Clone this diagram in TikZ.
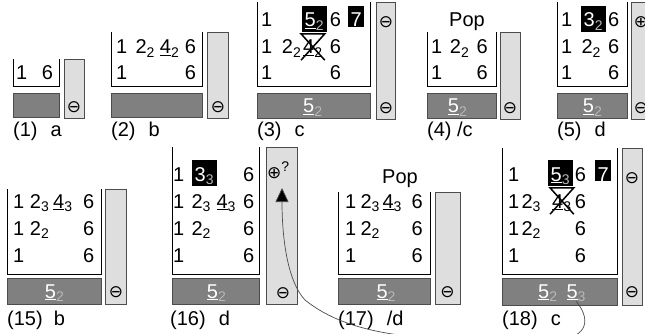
\documentclass[tikz,border=0pt]{standalone}
\usepackage{fontspec}
\setmainfont{Liberation Sans}
\newfontfamily\symfont{DejaVu Sans}
\usetikzlibrary{arrows.meta}
\definecolor{barg}{rgb}{0.5,0.5,0.5}
\definecolor{colg}{rgb}{0.87,0.87,0.87}
\definecolor{edgeg}{rgb}{0.3,0.3,0.3}
\definecolor{subg}{rgb}{0.72,0.72,0.72}
\newcommand{\idx}[1]{\textsubscript{#1}}
\newcommand{\widx}[1]{\textsubscript{\color{subg}#1}}
\newcommand{\cminus}{{\symfont\fontsize{17}{17}\selectfont ⊖}}
\newcommand{\cplus}{{\symfont\fontsize{17}{17}\selectfont ⊕}}

\begin{document}
\begin{tikzpicture}[x=1pt, y=-1pt, font=\fontsize{20}{23}\selectfont]
  \tikzstyle{tok}=[anchor=base west, inner sep=0pt]
  \tikzstyle{hl}=[tok, fill=black, text=white, inner xsep=2.5pt, text height=21pt, text depth=0pt]
  \tikzstyle{xtok}=[tok, inner xsep=2pt, text height=20pt, text depth=6pt]
  \tikzstyle{bartxt}=[tok, text=white]
  \tikzstyle{sym}=[inner sep=0pt, anchor=center]
  \tikzstyle{lbl}=[anchor=base west, inner sep=0pt]
  \tikzstyle{stack}=[draw=black, line width=1pt]
  \tikzstyle{bar}=[fill=barg, draw=edgeg, line width=1pt]
  \tikzstyle{col}=[fill=colg, draw=edgeg, line width=0.8pt]
  \tikzstyle{xline}=[draw=black, line width=1.5pt]

  \useasboundingbox (0,0) rectangle (645,334);

  % top row: stacks, bars, columns
  \draw[stack] (13,59) |- (59,87) -- (59,59);
  \draw[bar] (13,94) rectangle (59,118);
  \draw[col] (64,59) rectangle (84,118);

  \draw[stack] (111,32) |- (202,87) -- (202,32);
  \draw[bar] (111,94) rectangle (202,118);
  \draw[col] (207,32) rectangle (228,118);

  \draw[stack] (257,2) |- (370,87) -- (370,2);
  \draw[bar] (257,94) rectangle (370,119);
  \draw[col] (376,2) rectangle (395,119);

  \draw[stack] (427,32) |- (496,87) -- (496,32);
  \draw[bar] (427,94) rectangle (496,119);
  \draw[col] (500,32) rectangle (520,119);

  \draw[stack] (557,2) |- (627,87) -- (627,2);
  \draw[bar] (557,94) rectangle (627,119);
  \draw[col] (631,2) rectangle (652,119);

  % bottom row
  \draw[stack] (7,189) |- (101,274) -- (101,189);
  \draw[bar] (7,278) rectangle (101,304);
  \draw[col] (105,189) rectangle (126,304);

  \draw[stack] (172,147) |- (259,274) -- (259,147);
  \draw[bar] (172,278) rectangle (259,304);
  \draw[col] (266,147) rectangle (297,304);

  \draw[stack] (338,192) |- (430,274) -- (430,192);
  \draw[bar] (338,278) rectangle (430,304);
  \draw[col] (435,192) rectangle (460,304);

  \draw[stack] (502,148) |- (617,274) -- (617,148);
  \draw[bar] (502,278) rectangle (617,305);
  \draw[col] (622,148) rectangle (642,305);

  % (1)
  \node[tok] (P1a) at (16,80) {1};
  \node[tok] (P1b) at (41.7,80) {6};
  \node[sym] (P1n) at (74,107) {\cminus};
  \node[lbl] (L1) at (13,137) {(1)\hspace{13pt}a};

  % (2)
  \node[tok] (P2a) at (116,54) {1};
  \node[tok] (P2b) at (135.4,54) {2\idx{2}};
  \node[tok] (P2c) at (159.7,54) {\underline{4}\idx{2}};
  \node[tok] (P2d) at (184.7,54) {6};
  \node[tok] (P2e) at (116,80) {1};
  \node[tok] (P2f) at (184.7,80) {6};
  \node[sym] (P2n) at (218,107) {\cminus};
  \node[lbl] (L2) at (111,137) {(2)\hspace{13pt}b};

  % (3)
  \node[tok] (P3a) at (261,27) {1};
  \node[hl, text depth=5pt] (P3b) at (302,27) {\underline{5}\widx{2}};
  \node[tok] (P3c) at (329.7,27) {6};
  \node[hl] (P3d) at (348,27) {7};
  \node[tok] (P3e) at (261,54) {1};
  \node[tok] (P3f) at (281.7,54) {2\idx{2}};
  \node[xtok] (P3g) at (301,54) {\underline{4}\idx{2}};
  \node[tok] (P3h) at (329.7,54) {6};
  \node[tok] (P3i) at (261,80) {1};
  \node[tok] (P3j) at (329.7,80) {6};
  \draw[xline] (P3g.south west) -- (P3g.north east) -- (P3g.north west) -- (P3g.south east);
  \node[bartxt] (P3k) at (303,113) {\underline{5}\widx{2}};
  \node[sym] (P3m) at (386,22) {\cminus};
  \node[sym] (P3n) at (386,108) {\cminus};
  \node[lbl] (L3) at (257,137) {(3)\hspace{13pt}c};

  % (4)
  \node[anchor=base, inner sep=0pt] (P4p) at (467,27) {Pop};
  \node[tok] (P4a) at (431,54) {1};
  \node[tok] (P4b) at (449.7,54) {2\idx{2}};
  \node[tok] (P4c) at (476.4,54) {6};
  \node[tok] (P4d) at (431,80) {1};
  \node[tok] (P4e) at (476.4,80) {6};
  \node[bartxt] (P4k) at (447.7,113) {\underline{5}\widx{2}};
  \node[sym] (P4n) at (510,108) {\cminus};
  \node[lbl] (L4) at (427,137) {(4) /c};

  % (5)
  \node[tok] (P5a) at (561,27) {1};
  \node[hl, text depth=5pt] (P5b) at (581,27) {3\widx{2}};
  \node[tok] (P5c) at (608,27) {6};
  \node[tok] (P5d) at (561,54) {1};
  \node[tok] (P5e) at (581.4,54) {2\idx{2}};
  \node[tok] (P5f) at (608,54) {6};
  \node[tok] (P5g) at (561,80) {1};
  \node[tok] (P5h) at (608,80) {6};
  \node[bartxt] (P5k) at (582.7,113) {\underline{5}\widx{2}};
  \node[sym] (P5m) at (641,22) {\cplus};
  \node[sym] (P5n) at (641,108) {\cminus};
  \node[lbl] (L5) at (557,137) {(5)\hspace{13pt}d};

  % (15)
  \node[tok] (P15a) at (13,208) {1};
  \node[tok] (P15b) at (29.7,208) {2\idx{3}};
  \node[tok] (P15c) at (53,208) {\underline{4}\idx{3}};
  \node[tok] (P15d) at (83,208) {6};
  \node[tok] (P15e) at (13,235) {1};
  \node[tok] (P15f) at (29.7,235) {2\idx{2}};
  \node[tok] (P15g) at (83,235) {6};
  \node[tok] (P15h) at (13,262) {1};
  \node[tok] (P15i) at (83,262) {6};
  \node[bartxt] (P15k) at (44.7,298) {\underline{5}\widx{2}};
  \node[sym] (P15n) at (116,292) {\cminus};
  \node[lbl] (L15) at (7,325) {(15)\hspace{11pt}b};

  % (16)
  \node[tok] (P16a) at (173,181) {1};
  \node[hl, text depth=5pt] (P16b) at (192,181) {3\widx{3}};
  \node[tok] (P16c) at (243,181) {6};
  \node[tok] (P16d) at (173,208) {1};
  \node[tok] (P16e) at (191.4,208) {2\idx{3}};
  \node[tok] (P16f) at (216.4,208) {\underline{4}\idx{3}};
  \node[tok] (P16g) at (243,208) {6};
  \node[tok] (P16h) at (173,235) {1};
  \node[tok] (P16i) at (191.4,235) {2\idx{2}};
  \node[tok] (P16j) at (243,235) {6};
  \node[tok] (P16k) at (173,262) {1};
  \node[tok] (P16l) at (243,262) {6};
  \node[bartxt] (P16m) at (206.7,298) {\underline{5}\widx{2}};
  \node[anchor=west, inner sep=0pt] (P16n) at (267,170) {\cplus\textsuperscript{?}};
  \node[sym] (P16o) at (283,293) {\cminus};
  \coordinate (P16t) at (282,188);
  \node[lbl] (L16) at (170,325) {(16)\hspace{13pt}d};

  % (17)
  \node[anchor=base, inner sep=0pt] (P17p) at (400,183) {Pop};
  \node[tok] (P17a) at (345,208) {1};
  \node[tok] (P17b) at (360.4,208) {2\idx{3}};
  \node[tok] (P17c) at (382.4,208) {\underline{4}\idx{3}};
  \node[tok] (P17d) at (411.4,208) {6};
  \node[tok] (P17e) at (345,235) {1};
  \node[tok] (P17f) at (360.4,235) {2\idx{2}};
  \node[tok] (P17g) at (411.4,235) {6};
  \node[tok] (P17h) at (345,262) {1};
  \node[tok] (P17i) at (411.4,262) {6};
  \node[bartxt] (P17k) at (376.4,298) {\underline{5}\widx{2}};
  \node[sym] (P17n) at (447.5,292) {\cminus};
  \node[lbl] (L17) at (338,325) {(17)\hspace{13pt}/d};

  % (18)
  \node[tok] (P18a) at (508,181) {1};
  \node[hl, text depth=5pt] (P18b) at (548,181) {\underline{5}\widx{3}};
  \node[tok] (P18c) at (574.7,181) {6};
  \node[hl] (P18d) at (595,181) {7};
  \node[tok] (P18e) at (508,208) {1};
  \node[tok] (P18f) at (521.4,208) {2\idx{3}};
  \node[xtok] (P18g) at (550,208) {\underline{4}\idx{3}};
  \node[tok] (P18h) at (574.7,208) {6};
  \node[tok] (P18i) at (508,235) {1};
  \node[tok] (P18j) at (521.4,235) {2\idx{2}};
  \node[tok] (P18k) at (574.7,235) {6};
  \node[tok] (P18l) at (508,262) {1};
  \node[tok] (P18m) at (574.7,262) {6};
  \draw[xline] (P18g.south west) -- (P18g.north east) -- (P18g.north west) -- (P18g.south east);
  \node[bartxt] (P18n) at (538,298) {\underline{5}\widx{2}};
  \node[bartxt] (P18o) at (566.4,298) {\underline{5}\widx{3}};
  \node[sym] (P18q) at (632,178) {\cminus};
  \node[sym] (P18r) at (632,292) {\cminus};
  \node[lbl] (L18) at (502,325) {(18)\hspace{13pt}c};

  % the link back to (16)
  \draw[edgeg, line width=0.7pt, -{Triangle[length=14pt, width=13pt, fill=black]}]
    (P18o.south) .. controls (590,318) and (590,338) .. (555,340)
    .. controls (420,343) and (350,336) .. (305,300)
    .. controls (288,282) and (282,240) .. (P16t);

\end{tikzpicture}
\end{document}
